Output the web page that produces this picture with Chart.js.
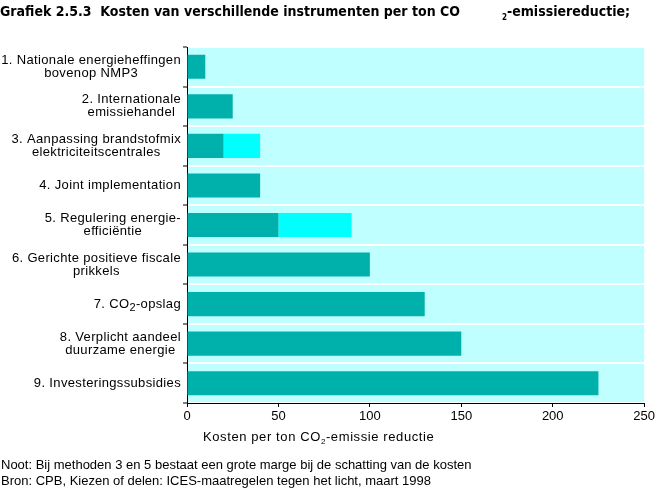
<!DOCTYPE html>
<html>
<head>
<meta charset="utf-8">
<script src="https://cdn.jsdelivr.net/npm/chart.js@4"></script>
<style>
  html, body { margin: 0; padding: 0; background: #fff; }
  #wrap { position: relative; width: 657px; height: 490px; font-family: "Liberation Sans", Arial, sans-serif; color: #000; }
  #chart { position: absolute; left: 0; top: 0; }
  .txt { position: absolute; white-space: nowrap; }
  #title { left: 0; top: 3px; font-family: "Liberation Sans Narrow", "DejaVu Sans Condensed", sans-serif; font-weight: bold; font-size: 14px; }
  #title .gap { display: inline-block; width: 42px; }
  #title sub { font-size: 8px; vertical-align: -4px; }
  #axis-title { left: 203px; top: 429px; font-size: 13px; letter-spacing: 0.6px; }
  #axis-title sub { font-size: 8px; vertical-align: -3px; }
  #notes { left: 1px; top: 457px; font-size: 13px; line-height: 16px; }
</style>
</head>
<body>
<div id="wrap">
  <canvas id="chart" width="657" height="490"></canvas>
  <div class="txt" id="title">Grafiek 2.5.3&nbsp; Kosten van verschillende instrumenten per ton CO<span class="gap"></span><sub>2</sub>-emissiereductie;</div>
  <div class="txt" id="axis-title">Kosten per ton CO<sub>2</sub>-emissie reductie</div>
  <div class="txt" id="notes">Noot: Bij methoden 3 en 5 bestaat een grote marge bij de schatting van de kosten<br>Bron: CPB, Kiezen of delen: ICES-maatregelen tegen het licht, maart 1998</div>
</div>
<script>
const categories = [
  ['1. Nationale energieheffingen', 'bovenop NMP3'],
  ['2. Internationale', 'emissiehandel'],
  ['3. Aanpassing brandstofmix', 'elektriciteitscentrales'],
  ['4. Joint implementation'],
  ['5. Regulering energie-', 'efficiëntie'],
  ['6. Gerichte positieve fiscale', 'prikkels'],
  ['7. CO2-opslag'],
  ['8. Verplicht aandeel', 'duurzame energie'],
  ['9. Investeringssubsidies'],
];
const baseCost = [10, 25, 20, 40, 50, 100, 130, 150, 225];
const marginCost = [0, 0, 20, 0, 40, 0, 0, 0, 0];
const xTicks = [0, 50, 100, 150, 200, 250];

const labelFont = '13px "Liberation Sans", Arial, sans-serif';
const subFont = '11px "Liberation Sans", Arial, sans-serif';

// split "CO2" so the 2 can be drawn as a subscript
function pieces(text) {
  const idx = text.indexOf('CO2');
  if (idx < 0) return [{ t: text, sub: false }];
  return [
    { t: text.slice(0, idx + 2), sub: false },
    { t: '2', sub: true },
    { t: text.slice(idx + 3), sub: false },
  ];
}

function measureRich(ctx, text) {
  let w = 0;
  pieces(text).forEach((p) => {
    ctx.font = p.sub ? subFont : labelFont;
    w += ctx.measureText(p.t).width;
  });
  return w;
}

function drawRich(ctx, text, x, y) {
  let cx = x;
  pieces(text).forEach((p) => {
    ctx.font = p.sub ? subFont : labelFont;
    ctx.fillText(p.t, cx, p.sub ? y + 4 : y);
    cx += ctx.measureText(p.t).width;
  });
}

const plotBackground = {
  id: 'plotBackground',
  beforeDraw(chart) {
    const { ctx, chartArea } = chart;
    ctx.save();
    ctx.fillStyle = '#c0ffff';
    ctx.fillRect(chartArea.left, chartArea.top, chartArea.right - chartArea.left, chartArea.bottom - chartArea.top);
    ctx.restore();
  },
};

const categoryLabels = {
  id: 'categoryLabels',
  afterDraw(chart) {
    const { ctx } = chart;
    const yScale = chart.scales.y;
    const right = 181;
    const lineH = 13;
    ctx.save();
    ctx.fillStyle = '#000';
    ctx.textBaseline = 'middle';
    ctx.textAlign = 'left';
    ctx.letterSpacing = '0.35px';
    categories.forEach((lines, i) => {
      const yc = yScale.getPixelForValue(i);
      const widths = lines.map((l) => measureRich(ctx, l));
      const blockW = Math.max(...widths);
      const center = right - blockW / 2;
      const y0 = yc - ((lines.length - 1) * lineH) / 2;
      lines.forEach((l, j) => {
        drawRich(ctx, l, center - widths[j] / 2, y0 + j * lineH);
      });
    });
    ctx.restore();
  },
};

new Chart(document.getElementById('chart'), {
  type: 'bar',
  data: {
    labels: categories,
    datasets: [
      {
        label: 'Kosten',
        data: baseCost,
        backgroundColor: '#00b0aa',
        barPercentage: 0.61,
        categoryPercentage: 1,
      },
      {
        label: 'Marge',
        data: marginCost,
        backgroundColor: '#00ffff',
        barPercentage: 0.61,
        categoryPercentage: 1,
      },
    ],
  },
  options: {
    indexAxis: 'y',
    responsive: false,
    animation: false,
    layout: { padding: { top: 47, right: 8, left: 0, bottom: 0 } },
    plugins: {
      legend: { display: false },
      tooltip: { enabled: false },
    },
    scales: {
      x: {
        stacked: true,
        min: 0,
        max: 250,
        afterBuildTicks: (scale) => {
          scale.ticks = xTicks.map((v) => ({ value: v }));
        },
        afterFit: (scale) => {
          scale.height = 87;
        },
        ticks: {
          color: '#000',
          font: { family: '"Liberation Sans", Arial, sans-serif', size: 13 },
          padding: 2,
          maxRotation: 0,
        },
        grid: {
          drawOnChartArea: false,
          tickLength: 4,
          tickColor: '#000',
        },
        border: { color: '#000', width: 1 },
      },
      y: {
        stacked: true,
        afterFit: (scale) => {
          scale.width = 187;
        },
        ticks: { display: false },
        grid: {
          offset: true,
          color: '#ffffff',
          lineWidth: 2,
          tickLength: 4,
          tickColor: '#000',
          tickWidth: 1,
        },
        border: { color: '#000', width: 1 },
      },
    },
  },
  plugins: [plotBackground, categoryLabels],
});
</script>
</body>
</html>
